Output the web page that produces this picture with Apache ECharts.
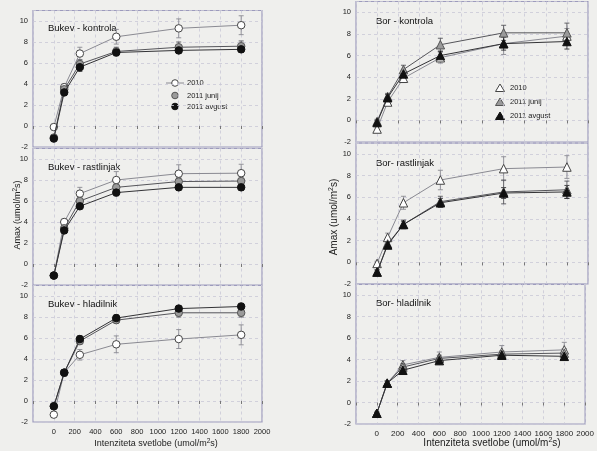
<!DOCTYPE html>
<html>
<head>
<meta charset="utf-8">
<script src="https://cdn.jsdelivr.net/npm/echarts@6/dist/echarts.min.js"></script>
<style>
html,body{margin:0;padding:0;background:#efefed;}
#chart{width:597px;height:451px;}
</style>
</head>
<body>
<div id="chart"></div>
<script>
// ---------- data ----------
const xLevels = [0, 100, 250, 600, 1200, 1800];
const seriesNames = ['2010', '2011 junij', '2011 avgust'];
const xTickLabels = [0, 200, 400, 600, 800, 1000, 1200, 1400, 1600, 1800, 2000];
const yTickLabels = [-2, 0, 2, 4, 6, 8, 10];
const panelTitles = ['Bukev - kontrola', 'Bukev - rastlinjak', 'Bukev - hladilnik',
                     'Bor - kontrola', 'Bor- rastlinjak', 'Bor- hladilnik'];

// Bukev - kontrola
const bukevKontrola2010      = [-0.1, 3.7, 6.9, 8.5, 9.3, 9.6];
const bukevKontrola2010Err   = [0.2, 0.3, 0.6, 0.7, 0.9, 0.9];
const bukevKontrolaJunij     = [-1.1, 3.5, 5.9, 7.1, 7.5, 7.6];
const bukevKontrolaJunijErr  = [0.2, 0.3, 0.4, 0.4, 0.5, 0.5];
const bukevKontrolaAvgust    = [-1.2, 3.2, 5.6, 7.0, 7.2, 7.3];
const bukevKontrolaAvgustErr = [0.2, 0.3, 0.4, 0.3, 0.3, 0.3];
// Bukev - rastlinjak
const bukevRastlinjak2010      = [-1.1, 4.0, 6.7, 8.0, 8.6, 8.65];
const bukevRastlinjak2010Err   = [0.2, 0.3, 0.6, 0.8, 0.85, 0.85];
const bukevRastlinjakJunij     = [-1.1, 3.4, 6.0, 7.3, 7.85, 7.9];
const bukevRastlinjakJunijErr  = [0.2, 0.3, 0.4, 0.4, 0.4, 0.4];
const bukevRastlinjakAvgust    = [-1.1, 3.2, 5.5, 6.8, 7.3, 7.3];
const bukevRastlinjakAvgustErr = [0.2, 0.3, 0.3, 0.3, 0.3, 0.3];
// Bukev - hladilnik
const bukevHladilnik2010      = [-1.3, 2.7, 4.4, 5.4, 5.9, 6.3];
const bukevHladilnik2010Err   = [0.2, 0.3, 0.5, 0.8, 0.9, 0.95];
const bukevHladilnikJunij     = [-0.5, 2.7, 5.7, 7.7, 8.4, 8.4];
const bukevHladilnikJunijErr  = [0.2, 0.3, 0.3, 0.3, 0.4, 0.4];
const bukevHladilnikAvgust    = [-0.5, 2.7, 5.9, 7.9, 8.8, 9.0];
const bukevHladilnikAvgustErr = [0.2, 0.3, 0.3, 0.3, 0.3, 0.3];
// Bor - kontrola
const borKontrola2010      = [-0.8, 1.7, 3.9, 5.8, 7.1, 7.8];
const borKontrola2010Err   = [0.2, 0.3, 0.4, 0.5, 1.0, 0.7];
const borKontrolaJunij     = [-0.1, 2.2, 4.7, 7.0, 8.1, 8.1];
const borKontrolaJunijErr  = [0.2, 0.3, 0.4, 0.6, 0.7, 0.9];
const borKontrolaAvgust    = [-0.2, 2.1, 4.3, 6.0, 7.1, 7.3];
const borKontrolaAvgustErr = [0.2, 0.3, 0.4, 0.4, 0.6, 0.7];
// Bor - rastlinjak
const borRastlinjak2010      = [-0.1, 2.3, 5.5, 7.6, 8.65, 8.8];
const borRastlinjak2010Err   = [0.2, 0.4, 0.6, 0.9, 1.1, 1.05];
const borRastlinjakJunij     = [-0.9, 1.7, 3.5, 5.6, 6.5, 6.7];
const borRastlinjakJunijErr  = [0.2, 0.3, 0.4, 0.5, 1.1, 0.8];
const borRastlinjakAvgust    = [-0.9, 1.6, 3.5, 5.5, 6.4, 6.5];
const borRastlinjakAvgustErr = [0.2, 0.3, 0.3, 0.4, 0.5, 0.6];
// Bor - hladilnik
const borHladilnik2010      = [-1.0, 1.8, 3.5, 4.2, 4.7, 4.9];
const borHladilnik2010Err   = [0.1, 0.2, 0.4, 0.5, 0.6, 0.7];
const borHladilnikJunij     = [-1.0, 1.8, 3.3, 4.1, 4.5, 4.6];
const borHladilnikJunijErr  = [0.1, 0.2, 0.3, 0.3, 0.3, 0.4];
const borHladilnikAvgust    = [-1.0, 1.8, 3.0, 3.9, 4.4, 4.3];
const borHladilnikAvgustErr = [0.1, 0.2, 0.3, 0.3, 0.3, 0.3];

const panels = [
  [[bukevKontrola2010, bukevKontrola2010Err], [bukevKontrolaJunij, bukevKontrolaJunijErr], [bukevKontrolaAvgust, bukevKontrolaAvgustErr]],
  [[bukevRastlinjak2010, bukevRastlinjak2010Err], [bukevRastlinjakJunij, bukevRastlinjakJunijErr], [bukevRastlinjakAvgust, bukevRastlinjakAvgustErr]],
  [[bukevHladilnik2010, bukevHladilnik2010Err], [bukevHladilnikJunij, bukevHladilnikJunijErr], [bukevHladilnikAvgust, bukevHladilnikAvgustErr]],
  [[borKontrola2010, borKontrola2010Err], [borKontrolaJunij, borKontrolaJunijErr], [borKontrolaAvgust, borKontrolaAvgustErr]],
  [[borRastlinjak2010, borRastlinjak2010Err], [borRastlinjakJunij, borRastlinjakJunijErr], [borRastlinjakAvgust, borRastlinjakAvgustErr]],
  [[borHladilnik2010, borHladilnik2010Err], [borHladilnikJunij, borHladilnikJunijErr], [borHladilnikAvgust, borHladilnikAvgustErr]]
];

// ---------- layout / style ----------
const FONT = 'Liberation Sans, Arial, sans-serif';
const frameColor = '#9d9bbd';
const gridLineColor = '#c9c8d6';
const gridBoxes = [
  {left: 33, top: 10.5, width: 229, height: 136.5},
  {left: 33, top: 148.5, width: 229, height: 136.5},
  {left: 33, top: 285.5, width: 229, height: 136.5},
  {left: 356, top: 1.5, width: 232, height: 140.5},
  {left: 356, top: 143.2, width: 232, height: 140.8},
  {left: 356, top: 284.3, width: 232, height: 139.7}
];
const markerFill = ['#ffffff', '#9a9a9a', '#111111'];
const markerBorder = ['#444444', '#555555', '#111111'];
const lineColors = ['#8a8a92', '#55555a', '#333336'];

const grid = [], xAxis = [], yAxis = [], series = [];
gridBoxes.forEach((b, i) => {
  grid.push(Object.assign({show: true, borderColor: frameColor, borderWidth: 1.2, backgroundColor: 'transparent'}, b));
  const bottom = (i === 2 || i === 5);
  const right = i >= 3;
  xAxis.push({
    type: 'value', gridIndex: i, min: -200, max: 2000, interval: 200,
    axisLine: {show: false},
    axisTick: {show: true, length: 3, lineStyle: {color: '#777'}},
    axisLabel: {show: bottom, fontSize: right ? 8 : 7.5, color: '#222', fontFamily: FONT, margin: 6,
      formatter: v => (xTickLabels.indexOf(v) >= 0 ? String(v) : '')},
    splitLine: {show: true, lineStyle: {color: gridLineColor, type: [3, 3], width: 0.8}}
  });
  yAxis.push({
    type: 'value', gridIndex: i, min: -2, max: 11, interval: 2,
    axisLine: {show: false},
    axisTick: {show: false},
    axisLabel: {fontSize: 7.5, color: '#222', fontFamily: FONT, margin: 5,
      formatter: v => (yTickLabels.indexOf(v) >= 0 ? String(v) : '')},
    splitLine: {show: true, lineStyle: {color: gridLineColor, type: [3, 3], width: 0.8}}
  });
  const sym = i < 3 ? 'circle' : 'triangle';
  panels[i].forEach((pair, s) => {
    const vals = pair[0], errs = pair[1];
    const col = lineColors[s];
    series.push({
      type: 'custom', name: seriesNames[s], xAxisIndex: i, yAxisIndex: i, z: 2,
      data: xLevels.map((x, k) => [x, vals[k], errs[k]]),
      encode: {x: 0, y: 1},
      renderItem: (params, api) => {
        const x = api.value(0), y = api.value(1), e = api.value(2);
        const hi = api.coord([x, y + e]), lo = api.coord([x, y - e]);
        const c = 2.5;
        const st = {stroke: col, lineWidth: 0.9};
        return {type: 'group', children: [
          {type: 'line', shape: {x1: hi[0], y1: hi[1], x2: lo[0], y2: lo[1]}, style: st},
          {type: 'line', shape: {x1: hi[0] - c, y1: hi[1], x2: hi[0] + c, y2: hi[1]}, style: st},
          {type: 'line', shape: {x1: lo[0] - c, y1: lo[1], x2: lo[0] + c, y2: lo[1]}, style: st}
        ]};
      }
    });
    series.push({
      type: 'line', name: seriesNames[s], xAxisIndex: i, yAxisIndex: i, z: 3 + s,
      data: xLevels.map((x, k) => [x, vals[k]]),
      symbol: sym, symbolSize: sym === 'circle' ? 7.5 : 8.5,
      showSymbol: true,
      lineStyle: {color: col, width: 1},
      itemStyle: {color: markerFill[s], borderColor: markerBorder[s], borderWidth: 1},
      emphasis: {disabled: true},
      animation: false
    });
  });
});

// ---------- text / legends ----------
const graphic = [];
const titlePos = [[48, 29], [48, 168], [48, 305], [376, 22], [376, 164], [376, 304]];
panelTitles.forEach((t, i) => {
  graphic.push({type: 'text', left: titlePos[i][0], top: titlePos[i][1] - 6,
    style: {text: t, font: '9.5px ' + FONT, fill: '#111'}});
});
const richL = {
  a: {fontSize: 9, fontFamily: FONT, fill: '#222', color: '#222'},
  s: {fontSize: 6.5, fontFamily: FONT, fill: '#222', color: '#222', verticalAlign: 'top', padding: [0, 0, 5, 0]}
};
const richR = {
  a: {fontSize: 10, fontFamily: FONT, fill: '#222', color: '#222'},
  s: {fontSize: 7, fontFamily: FONT, fill: '#222', color: '#222', verticalAlign: 'top', padding: [0, 0, 5, 0]}
};
graphic.push({type: 'text', x: 18, y: 215, rotation: Math.PI / 2,
  style: {text: '{a|Amax (umol/m}{s|2}{a|s)}', rich: richL, align: 'center', verticalAlign: 'middle'}});
graphic.push({type: 'text', x: 334, y: 217, rotation: Math.PI / 2,
  style: {text: '{a|Amax (umol/m}{s|2}{a|s)}', rich: richR, align: 'center', verticalAlign: 'middle'}});
graphic.push({type: 'text', x: 156, y: 444,
  style: {text: '{a|Intenziteta svetlobe (umol/m}{s|2}{a|s)}', rich: richL, align: 'center', verticalAlign: 'middle'}});
graphic.push({type: 'text', x: 492, y: 443,
  style: {text: '{a|Intenziteta svetlobe (umol/m}{s|2}{a|s)}', rich: richR, align: 'center', verticalAlign: 'middle'}});
// legend (left, circles)
const legL = [[83, 0], [95.5, 1], [106.5, 2]];
legL.forEach(([y, s]) => {
  if (s === 0) graphic.push({type: 'line', shape: {x1: 166, y1: y, x2: 184, y2: y}, style: {stroke: lineColors[0], lineWidth: 1}});
  graphic.push({type: 'circle', shape: {cx: 175, cy: y, r: 3.3}, style: {fill: markerFill[s], stroke: markerBorder[s], lineWidth: 1}});
  graphic.push({type: 'text', x: 187, y: y, style: {text: seriesNames[s], font: '7.5px ' + FONT, fill: '#222', verticalAlign: 'middle'}});
});
// legend (right, triangles)
const legR = [[88, 0], [102, 1], [116, 2]];
legR.forEach(([y, s]) => {
  graphic.push({type: 'polygon', shape: {points: [[500, y - 4], [504.5, y + 3.5], [495.5, y + 3.5]]},
    style: {fill: markerFill[s], stroke: markerBorder[s], lineWidth: 1}});
  graphic.push({type: 'text', x: 510, y: y, style: {text: seriesNames[s], font: '7.5px ' + FONT, fill: '#222', verticalAlign: 'middle'}});
});

const chart = echarts.init(document.getElementById('chart'), null, {renderer: 'canvas'});
chart.setOption({
  backgroundColor: '#efefed',
  animation: false,
  grid, xAxis, yAxis, series, graphic
});
</script>
</body>
</html>
